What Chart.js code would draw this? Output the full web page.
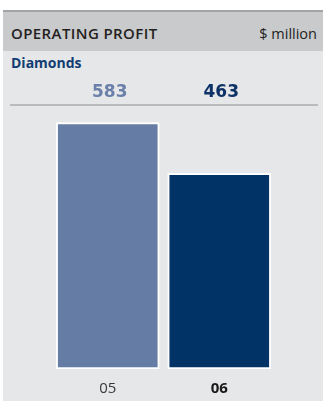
<!DOCTYPE html>
<html>
<head>
<meta charset="utf-8">
<script src="https://cdn.jsdelivr.net/npm/chart.js@4/dist/chart.umd.min.js"></script>
<style>
  html, body { margin: 0; padding: 0; background: #ffffff; }
  #wrap { position: relative; width: 323px; height: 401px; overflow: hidden; }
  .rule-top { position: absolute; left: 3px; top: 10px; width: 320px; height: 2px; background: #a3a4a6; }
  .head { position: absolute; left: 3px; top: 12px; width: 320px; height: 39px; background: #c9cacc; }
  .head .title { position: absolute; left: 8px; top: 14px; font: 600 15px/15px "Open Sans", sans-serif; color: #231f20; letter-spacing: 0.4px; white-space: nowrap; }
  .head .unit { position: absolute; right: 6px; top: 14px; font: 400 14.5px/15px "Open Sans", sans-serif; color: #231f20; white-space: nowrap; }
  .body { position: absolute; left: 3px; top: 51px; width: 320px; height: 350px; background: #e6e7e8; }
  .sub { position: absolute; left: 11px; top: 55.5px; font: 700 14px/14px "Open Sans", sans-serif; color: #123d72; white-space: nowrap; }
  .sep { position: absolute; left: 10px; top: 104px; width: 308px; height: 2px; background: #b9babc; }
  canvas { position: absolute; left: 0; top: 0; }
</style>
</head>
<body>
<div id="wrap">
  <div class="rule-top"></div>
  <div class="head"><span class="title">OPERATING PROFIT</span><span class="unit">$ million</span></div>
  <div class="body"></div>
  <div class="sub">Diamonds</div>
  <div class="sep"></div>
  <canvas id="chart" width="323" height="401"></canvas>
</div>
<script>
// Diamonds operating profit by year
const years = ['05', '06'];
const profit = [583, 463];
const barColors = ['#657ca5', '#023366'];
const valueColors = ['#6a80aa', '#0d3266'];
const yearWeights = ['normal', 'bold'];
const yearColors = ['#3a3a3a', '#1a1a1a'];

// Writes each bar's value in a row above the separator line
const valueRow = {
  id: 'valueRow',
  afterDatasetsDraw(chart) {
    const ctx = chart.ctx;
    const meta = chart.getDatasetMeta(0);
    ctx.save();
    ctx.font = 'bold 17px "DejaVu Sans", sans-serif';
    ctx.textAlign = 'center';
    ctx.textBaseline = 'middle';
    meta.data.forEach((bar, i) => {
      ctx.fillStyle = valueColors[i];
      ctx.fillText(String(chart.data.datasets[0].data[i]), bar.x + 2, 93);
    });
    ctx.restore();
  }
};

new Chart(document.getElementById('chart'), {
  type: 'bar',
  data: {
    labels: years,
    datasets: [{
      data: profit,
      backgroundColor: barColors,
      borderColor: '#ffffff',
      borderWidth: 2,
      borderSkipped: false,
      barThickness: 103
    }]
  },
  options: {
    responsive: false,
    devicePixelRatio: 1,
    animation: false,
    layout: { padding: { left: 52, right: 48, top: 115.5, bottom: 0 } },
    plugins: { legend: { display: false }, tooltip: { enabled: false } },
    scales: {
      y: { display: false, min: 0, max: 600 },
      x: {
        grid: { display: false, drawTicks: false },
        border: { display: false },
        afterFit: (scale) => { scale.height = 32; },
        ticks: {
          padding: 11,
          color: (c) => yearColors[c.index],
          font: (c) => ({ family: '"Open Sans", sans-serif', size: 15, weight: yearWeights[c.index] })
        }
      }
    }
  },
  plugins: [valueRow]
});
</script>
</body>
</html>
